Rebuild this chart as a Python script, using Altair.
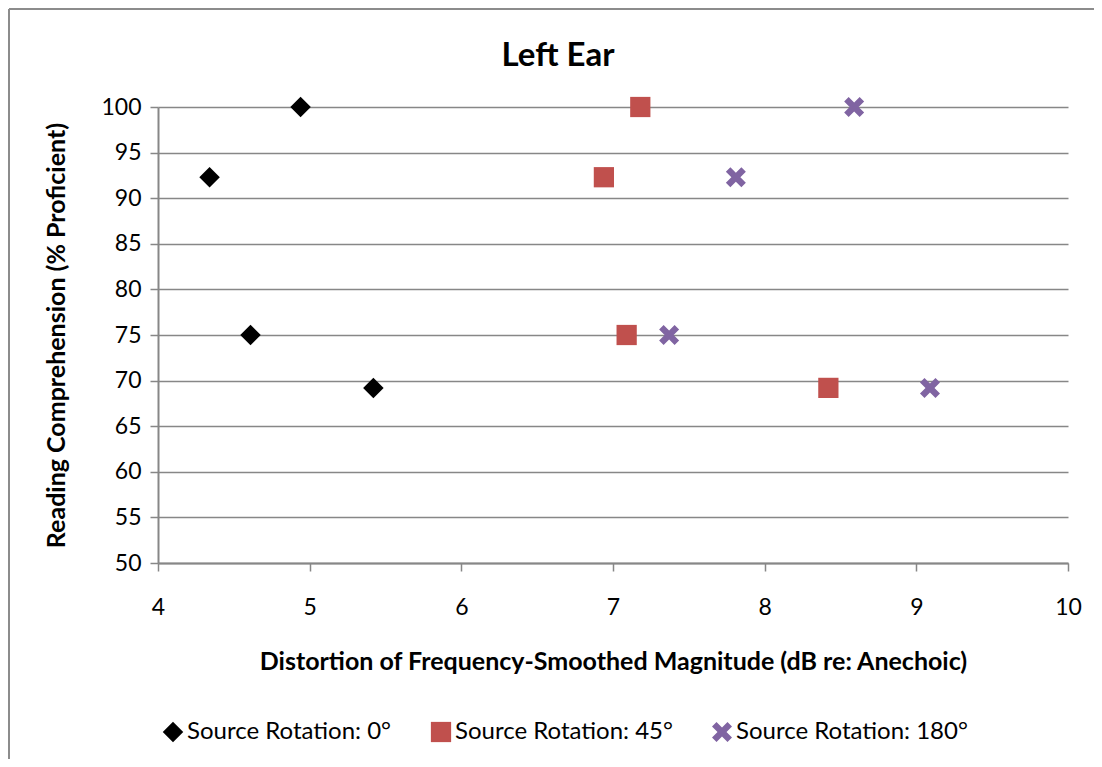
import altair as alt
import pandas as pd

series_names = ["Source Rotation: 0°", "Source Rotation: 45°", "Source Rotation: 180°"]
x_rot0 = [4.34, 4.94, 4.61, 5.42]
y_rot0 = [92.3, 100.0, 75.0, 69.2]
x_rot45 = [6.94, 7.18, 7.09, 8.42]
y_rot45 = [92.3, 100.0, 75.0, 69.2]
x_rot180 = [7.81, 8.59, 7.37, 9.09]
y_rot180 = [92.3, 100.0, 75.0, 69.2]

rows = []
for name, xs, ys in zip(series_names, [x_rot0, x_rot45, x_rot180], [y_rot0, y_rot45, y_rot180]):
    for xv, yv in zip(xs, ys):
        rows.append({"series": name, "x": xv, "y": yv})
df = pd.DataFrame(rows)

FONT = "Lato"
GRID = "#878787"
X_PATH = ("M-1,-0.55 L-0.55,-1 L0,-0.45 L0.55,-1 L1,-0.55 L0.45,0 L1,0.55 "
          "L0.55,1 L0,0.45 L-0.55,1 L-1,0.55 L-0.45,0 Z")

color_scale = alt.Scale(domain=series_names, range=["#000000", "#C0504D", "#8064A2"])
shape_scale = alt.Scale(domain=series_names, range=["diamond", "square", X_PATH])
size_scale = alt.Scale(domain=series_names, range=[420, 400, 540])

points = alt.Chart(df).mark_point(filled=True, opacity=1, strokeWidth=0).encode(
    x=alt.X("x:Q", scale=alt.Scale(domain=[4, 10], nice=False),
            axis=alt.Axis(title="Distortion of Frequency-Smoothed Magnitude (dB re: Anechoic)",
                          values=[4, 5, 6, 7, 8, 9, 10], grid=False, tickSize=8,
                          labelPadding=25, labelBaseline="top", labelFlush=False,
                          titleY=106, titleBaseline="alphabetic")),
    y=alt.Y("y:Q", scale=alt.Scale(domain=[50, 100], nice=False),
            axis=alt.Axis(title="Reading Comprehension (% Proficient)",
                          values=list(range(50, 101, 5)), grid=True, tickSize=8,
                          labelPadding=9, labelFlush=False,
                          titleX=-94, titleBaseline="alphabetic")),
    color=alt.Color("series:N", scale=color_scale,
                    legend=alt.Legend(title=None, orient="none", direction="horizontal",
                                      legendX=3, legendY=613, symbolSize=280,
                                      columnPadding=37, labelFontSize=24, labelFont=FONT,
                                      labelColor="#000000", symbolStrokeWidth=0,
                                      labelOffset=2, labelLimit=400)),
    shape=alt.Shape("series:N", scale=shape_scale, legend=None),
    size=alt.Size("series:N", scale=size_scale, legend=None),
)

frame_left = alt.Chart(df).mark_rule(color="#8c8c8c", strokeWidth=2, clip=False).encode(
    x=alt.value(-149), y=alt.value(-98), y2=alt.value(800))
frame_top = alt.Chart(df).mark_rule(color="#8c8c8c", strokeWidth=2, clip=False).encode(
    x=alt.value(-149), x2=alt.value(1000), y=alt.value(-98))

chart = alt.layer(frame_left, frame_top, points).properties(
    width=910, height=456,
    autosize=alt.AutoSizeParams(type="none"),
    padding={"left": 150, "top": 99, "right": 26, "bottom": 196},
    title=alt.TitleParams("Left Ear", fontSize=33, font=FONT, fontWeight="bold",
                          color="#000000", anchor="middle", dx=-55, offset=-65),
).configure(background="white").configure_view(stroke=None).configure_axis(
    labelFont=FONT, labelFontSize=23, labelColor="#000000",
    titleFont=FONT, titleFontSize=25, titleFontWeight="bold", titleColor="#000000",
    domainColor=GRID, domainWidth=2, tickColor=GRID, tickWidth=1.5,
    gridColor=GRID, gridWidth=1.5, gridOpacity=1,
)

chart.save("out.html", embed_options={"renderer": "svg", "actions": False})
